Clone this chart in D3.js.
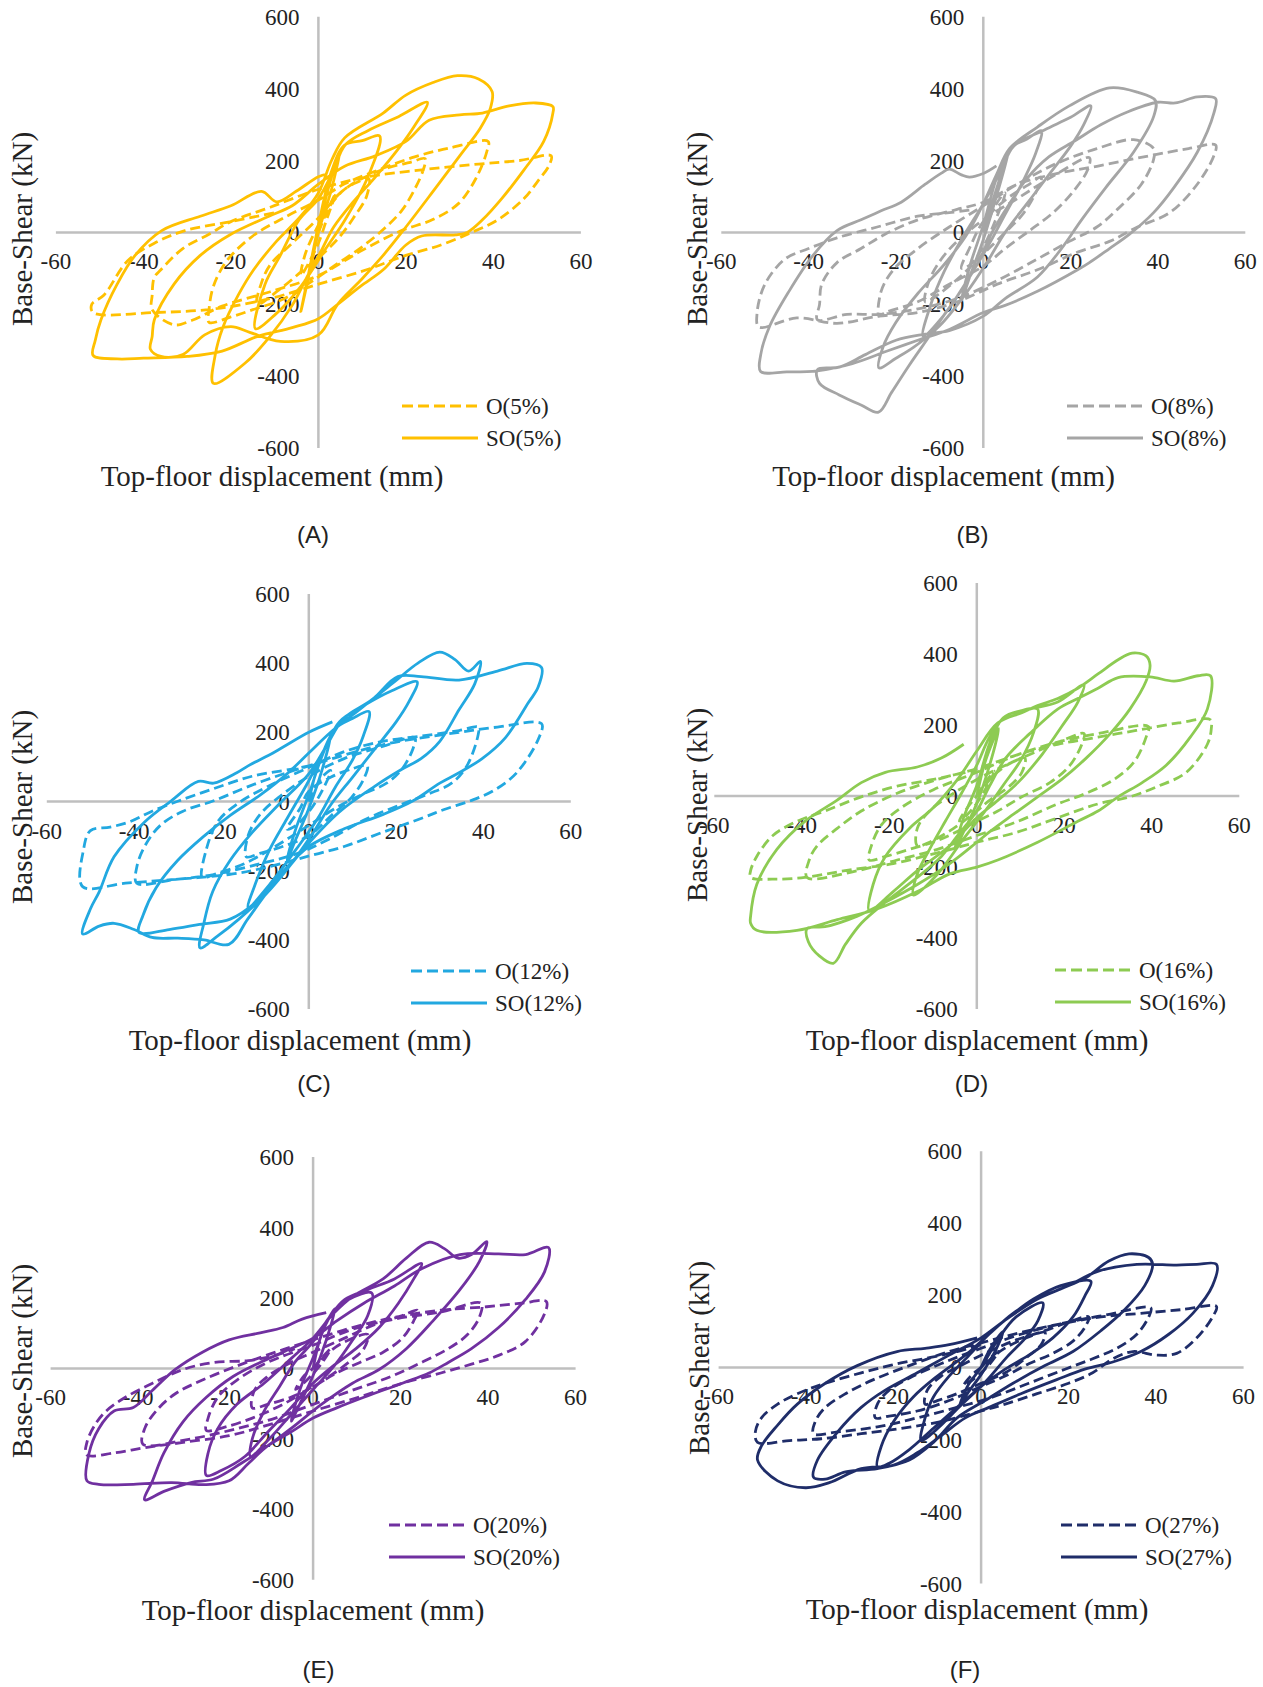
<!DOCTYPE html>
<html lang="en">
<head>
<meta charset="UTF-8">
<title>Base-shear vs top-floor displacement</title>
<style>
  body { margin: 0; background: #fff; }
  text { font-family: "Liberation Serif", "Times New Roman", serif; fill: #222; }
</style>
</head>
<body>
<svg width="1263" height="1687" id="svg"></svg>
<script src="https://d3js.org/d3.v7.min.js"></script>
<script>
const xTicks = [-60, -40, -20, 0, 20, 40, 60]
const yTicks = [600, 400, 200, 0, -200, -400, -600]

// each series: [displacement mm, base shear kN], traced cycle by cycle
const oA = [[0,0],[2,60],[4,110],[2,40],[0,-30],[-2,-80],[-4,-120],
  [-3,-60],[0,20],[3,80],[6,120],[9,140],[11.5,150],
  [11,100],[8,40],[5,-10],[1,-60],[-4,-110],[-9,-160],[-14,-200],
  [-13,-140],[-11,-90],[-6,-30],[0,40],[5,110],[10,150],[16,180],[21,195],[24.4,205],
  [24,175],[22,120],[19,60],[15,10],[10,-40],[4,-90],[-2,-140],[-8,-185],[-15,-215],[-20,-235],[-25,-250],
  [-25,-215],[-24,-150],[-21,-80],[-15,-10],[-8,40],[0,90],[6,135],[14,175],[22,210],[30,235],[38.8,253],
  [38.5,225],[36,150],[32,80],[26,35],[19,5],[10,-50],[0,-120],[-11,-165],[-22,-205],[-29,-245],[-33,-257],[-38,-215],
  [-38,-175],[-37.5,-125],[-36,-104],[-31,-45],[-25,-5],[-20,30],[-11,70],[0,120],[11,154],[23.6,174],[36.6,190],[46,200],[53.2,213],
  [52.8,188],[50,140],[47,94],[41,35],[35,0],[28,-35],[20,-64],[11,-104],[0,-144],[-11,-184],[-24,-213],[-37.5,-223],[-51.5,-223],
  [-51.8,-200],[-49,-174],[-43.6,-79],[-37.5,-30],[-30.5,5],[-20,30],[-10,55]]
const soA = [[0,0],[2,110],[5,230],[3,120],[0,0],[-2,-110],[-4,-220],
  [-2,-100],[0,20],[3,170],[6,243],[10,255],[14,268],
  [11.3,154],[6.1,35],[1.7,-45],[-4,-150],[-10,-230],[-14.4,-268],
  [-12.2,-144],[-8.7,-64],[-4.4,35],[0,94],[3.5,174],[6.1,243],[11.3,283],[18.3,322],[24.9,362],
  [21.8,293],[18.3,233],[13,154],[7.9,84],[3.5,15],[0.9,-45],[-2.6,-124],[-6,-203],[-11.3,-293],[-16.6,-362],[-24,-420],
  [-23.6,-342],[-21.8,-263],[-18.3,-174],[-14.8,-104],[-9.6,-25],[-4.4,40],[0,110],[3,200],[6,263],[14.8,332],[20,382],[26.2,417],[31.8,436],[36.6,427],[39.7,392],
  [39.3,345],[37,290],[32.3,213],[26.2,114],[20,15],[14.8,-64],[9.6,-134],[4.4,-200],[0,-285],[-8.7,-303],[-15.7,-278],[-20,-262],[-26,-285],[-31,-340],[-36,-345],[-38.4,-325],
  [-38,-290],[-37.5,-243],[-33,-144],[-27,-64],[-20,-5],[-11.3,45],[-6,74],[0,134],[6,184],[13,213],[20,253],[25.3,312],[32.3,327],[37.5,332],[43.6,352],[49.7,360],[53.6,350],
  [53.6,332],[51.5,253],[47,174],[41.9,94],[37.5,35],[34,0],[31.4,-7],[23.6,-10],[20,-35],[14.8,-104],[9.6,-150],[4.4,-200],[0,-240],[-6,-265],[-14,-290],[-22,-330],[-30,-345],[-40,-350],[-46,-352],[-51.5,-342],
  [-51,-300],[-49.7,-243],[-46,-144],[-41.9,-64],[-35.8,5],[-27,45],[-20,74],[-13,114],[-9.5,85],[-5,115],[0,155],[2,162]]

const oB = [[0,0],[3,80],[5,110],[3,40],[0,-40],[-3,-90],[-5,-100],
  [-3,-40],[0,30],[5,90],[10,130],[13.3,154],
  [12,110],[9,50],[5,0],[0,-60],[-5,-120],[-10,-170],[-13.3,-193],
  [-12.4,-134],[-9.6,-74],[-6,-25],[0,35],[7.8,94],[17,164],[24.3,208],
  [23.9,174],[20.6,114],[16,55],[10.6,5],[5,-45],[0,-94],[-7.8,-144],[-15,-193],[-22.5,-223],[-23.9,-233],
  [-23.4,-164],[-20.6,-104],[-15,-45],[-7.8,15],[0,74],[7.8,134],[17,193],[26,233],[34.4,258],[39,233],
  [39,203],[36.2,134],[30.7,64],[26,15],[19.7,-25],[12.4,-74],[3.2,-134],[-6,-184],[-15,-213],[-24,-228],[-31.2,-228],[-38,-243],
  [-37.5,-200],[-37,-144],[-33.5,-84],[-28,-45],[-22.5,-5],[-15,35],[-6,64],[0,84],[7.8,134],[17,164],[26,184],[38,213],[47,233],[53.2,243],
  [52.8,213],[49,134],[42.7,55],[35.3,15],[28.9,-25],[21.6,-55],[12.4,-104],[3.2,-144],[-6,-193],[-15,-223],[-24,-233],[-33.5,-253],[-42.7,-238],[-51.4,-263],
  [-51.8,-223],[-50,-144],[-45.4,-74],[-40,-45],[-33.5,-15],[-24.3,15],[-15,45],[-7.8,55],[-3,62]]
const soB = [[0,0],[3,120],[6,230],[3,100],[0,-20],[-3,-120],[-5,-190],
  [-3,-90],[0,20],[3,150],[6,233],[10,260],[13.3,283],
  [12,220],[9,140],[5,50],[1,-40],[-4,-140],[-9,-230],[-13.8,-288],
  [-12,-200],[-9,-110],[-5,-20],[0,80],[4,170],[7,240],[14,285],[20,320],[24.6,352],
  [23,300],[20,240],[15,160],[10,80],[5,0],[1,-80],[-4,-170],[-10,-260],[-16,-320],[-20,-350],[-23.9,-377],
  [-23,-320],[-20,-250],[-15,-170],[-9,-90],[-4,-10],[0,80],[3,160],[6,233],[12.4,293],[19.7,352],[28.9,402],[35.3,390],[39.4,367],
  [39,322],[34.4,223],[28,124],[22.5,35],[17.9,-45],[12.4,-124],[5,-184],[0,-233],[-7.8,-273],[-13.3,-283],[-20,-300],[-27,-340],[-33,-375],[-38,-382],
  [-37.5,-420],[-33,-452],[-28,-480],[-24,-500],[-21,-445],[-17,-370],[-13,-300],[-9,-230],[-5,-160],[-1,-80],[2,0],[6,80],[10,150],[15,210],[21,255],[27,300],[33,335],[39.9,362],[44,360],[49,377],[53.2,372],
  [52.8,332],[49,223],[43.6,124],[39,55],[33.5,-5],[28.9,-45],[24.3,-84],[21.6,-104],[12.4,-164],[5,-203],[0,-223],[-7.8,-270],[-15,-300],[-22,-330],[-30,-365],[-38,-385],[-45,-388],[-51,-387],
  [-51,-342],[-49,-263],[-44.5,-164],[-39,-64],[-33.5,5],[-28,35],[-23.4,60],[-18.8,84],[-13.3,134],[-9.6,165],[-7.8,176],[-5,160],[-3.2,154],[0,164],[3,185]]

const oC = [[0,0],[3,70],[5,90],[3,30],[0,-30],[-3,-70],[-5,-80],
  [-2,-20],[0,30],[5,70],[10,95],[13.4,103],
  [12.5,63],[9.8,12],[5.4,-38],[0,-99],[-6,-130],[-11.2,-150],[-14.3,-160],
  [-13.9,-99],[-11.2,-38],[-6.9,12],[0,73],[8.1,124],[16.9,159],[24.3,184],
  [23.9,154],[21.3,93],[17.8,53],[12.5,22],[6.3,-18],[0,-69],[-7.7,-130],[-14.8,-180],[-21.8,-211],[-24.4,-221],
  [-23.5,-140],[-20.9,-59],[-16.5,-8],[-9.5,43],[0,98],[8.1,144],[16.9,174],[25.7,189],[34.4,205],[38.8,215],
  [38.8,194],[36.2,103],[32.7,53],[27.4,22],[21.3,-8],[13.4,-49],[4.6,-109],[-2.5,-150],[-11.2,-180],[-21.8,-211],[-31,-226],[-39.4,-236],
  [-39.4,-190],[-37.6,-130],[-34,-69],[-28.8,-28],[-21.8,2],[-13.9,43],[-5.1,83],[0,103],[8.1,134],[16.9,164],[25.7,184],[34.4,200],[43.2,215],[53.3,225],
  [52.7,184],[47.6,83],[42.4,32],[37,2],[31,-23],[25.7,-49],[16.9,-89],[8.1,-130],[-0.7,-160],[-9.5,-190],[-18.3,-211],[-31.5,-226],[-42,-236],[-51.8,-246],
  [-51.6,-140],[-50,-84],[-45.5,-74],[-41.1,-59],[-35.9,-28],[-29.7,2],[-21.8,37],[-13,73],[-4.2,93],[0,103]]
const soC = [[0,0],[2,100],[5,190],[3,90],[0,-20],[-3,-110],[-5,-170],
  [-3,-80],[0,20],[3,130],[6,210],[10,240],[13.8,260],
  [12.5,190],[10,120],[6,40],[2,-50],[-3,-140],[-9,-240],[-13.9,-307],
  [-12,-230],[-9,-140],[-5,-50],[0,60],[4,160],[7,230],[13,280],[19,320],[24.8,346],
  [23,290],[20,230],[15,150],[10,70],[5,-10],[1,-90],[-4,-180],[-10,-270],[-16,-340],[-21,-390],[-24.9,-423],
  [-24,-350],[-22,-260],[-18,-170],[-13,-90],[-7,-10],[0,80],[4,160],[8,240],[14,290],[20,350],[25,400],[30,432],[33.5,410],[36.6,377],[39.3,405],
  [38,340],[34.4,265],[30,174],[25.7,124],[21.3,93],[15,43],[7,-30],[0,-120],[-6,-210],[-12,-290],[-18,-340],[-25,-355],[-32,-370],[-38.9,-378],
  [-38,-330],[-35,-250],[-30,-170],[-24,-100],[-18,-40],[-11,20],[-5,80],[0,140],[5,200],[10,250],[15,300],[20.4,361],[25.7,361],[34.4,351],[43.2,377],[50,399],[53.3,387],
  [52.5,330],[50.3,286],[45,184],[39.7,124],[34.4,83],[30,53],[23.9,2],[16.9,-38],[8.1,-79],[0,-130],[-5,-190],[-10,-270],[-14,-340],[-18.3,-413],[-24,-400],[-30,-395],[-35.9,-393],[-40,-370],[-44.6,-352],[-48,-360],[-51.8,-383],
  [-50,-310],[-48,-261],[-44.6,-160],[-37.6,-59],[-31.5,2],[-25.3,58],[-21.8,53],[-16.5,83],[-13.9,103],[-7.7,144],[0,200],[5.4,230]]

const oD = [[0,0],[2,40],[4,70],[2,20],[0,-20],[-2,-50],[-4,-70],
  [-2,-30],[0,0],[4,60],[8,95],[11,107],
  [10.3,67],[7.5,28],[2.9,-12],[0,-42],[-5.3,-91],[-10.8,-130],[-13.6,-140],
  [-13.6,-91],[-10.8,-42],[-5.3,8],[0,47],[6.6,87],[13.9,127],[19.4,156],[24.5,176],
  [24,146],[21.3,87],[16.7,38],[10.3,-2],[4.8,-42],[0,-71],[-8.1,-121],[-15.4,-150],[-20.9,-170],[-24.6,-180],
  [-24.1,-140],[-21.8,-81],[-17.2,-32],[-9.9,18],[0,67],[9.4,117],[18.5,152],[27.7,176],[39.2,196],
  [38.7,166],[36,97],[31.4,47],[25,8],[18.5,-22],[9.4,-71],[0,-111],[-9,-150],[-18.2,-180],[-27.3,-210],[-38.8,-229],
  [-38.3,-180],[-36.5,-140],[-31.9,-91],[-26.4,-42],[-18.2,8],[-9,47],[0,77],[9.4,117],[18.5,146],[27.7,166],[36.9,186],[46.1,206],[53.4,215],
  [53.6,190],[52.7,146],[47.9,67],[41.5,28],[35,-2],[27.7,-22],[18.5,-61],[9.4,-101],[0,-130],[-9,-160],[-19.1,-190],[-30.1,-210],[-39.3,-229],[-46.6,-234],[-51.7,-229],
  [-51.7,-210],[-50.3,-170],[-46.6,-111],[-41.1,-71],[-34.7,-42],[-26.4,-2],[-18.2,28],[-9.9,47],[-4.4,62],[0,72]]
const soD = [[0,0],[2,100],[5,190],[3,90],[0,-20],[-3,-100],[-5,-150],
  [-3,-60],[0,30],[3,150],[6,220],[10,240],[13.9,245],
  [13,180],[10,100],[6,30],[2,-40],[-3,-120],[-9,-220],[-14.5,-279],
  [-13.6,-219],[-10.8,-150],[-7.2,-71],[-3.5,8],[0,87],[2.9,166],[6.6,225],[12.1,245],[18.5,265],[24.5,314],
  [23.1,265],[19.4,196],[14.9,117],[9.4,38],[4.8,-12],[0,-61],[-6.2,-140],[-13.6,-210],[-19.1,-269],[-24.6,-323],
  [-23.7,-249],[-20.9,-170],[-15.4,-91],[-9.9,-32],[-4.4,47],[0,127],[4.8,206],[10.3,235],[13.9,255],[18.5,275],[23.1,304],[27.7,344],[32.3,384],[35.5,403],[38.7,395],[39.6,369],
  [38.7,324],[35,245],[30.5,176],[25,107],[19.4,47],[13.9,-2],[8.4,-51],[2.9,-101],[0,-130],[-6.2,-190],[-13.6,-249],[-20.9,-299],[-27.3,-338],[-34.7,-368],[-38.8,-373],
  [-38.5,-410],[-36,-450],[-32.8,-471],[-30,-417],[-26.4,-358],[-20.9,-299],[-13.6,-229],[-8.1,-170],[-4.4,-111],[0,-42],[2.9,28],[6.6,107],[12.1,176],[18.5,245],[23.1,275],[27.7,304],[32.3,334],[39.6,336],[45.1,324],[50.6,339],[53.4,339],
  [52.7,245],[48.8,166],[43.3,87],[37.8,38],[32.3,-2],[27.7,-42],[23.1,-71],[13.9,-130],[4.8,-180],[0,-200],[-6.2,-219],[-13.6,-269],[-22.8,-318],[-31.9,-348],[-41.1,-378],[-50.3,-378],[-51.7,-358],
  [-51.7,-338],[-50.3,-249],[-45.7,-150],[-39.3,-71],[-32,-12],[-26.4,38],[-20.9,67],[-13.6,82],[-8.1,107],[-3,146]]

const oE = [[0,0],[2,30],[4,55],[2,15],[0,-15],[-2,-40],[-4,-60],
  [-2,-20],[0,0],[4,50],[8,80],[12.5,96],
  [11.6,56],[8.1,17],[3.7,-23],[0,-52],[-5.1,-82],[-10.4,-102],[-13.9,-112],
  [-13.4,-62],[-10.4,-23],[-5.1,17],[0,46],[7.2,86],[14.2,125],[20.4,150],[23.9,165],
  [23,135],[20.4,86],[16,46],[10.7,17],[5.4,-13],[0,-52],[-6.9,-102],[-13.9,-141],[-20,-166],[-24.4,-176],
  [-24,-141],[-21.8,-82],[-17.4,-33],[-10.4,17],[0,66],[9,111],[18.6,140],[29.2,160],[38.4,185],
  [38,145],[35.3,96],[30.9,56],[24.8,17],[17.8,-23],[9,-62],[0,-102],[-8.6,-141],[-17.4,-171],[-27.9,-200],[-38.9,-215],
  [-38.5,-171],[-35.9,-121],[-31.5,-72],[-25.3,-33],[-17.4,7],[-8.6,46],[0,81],[9,116],[18.6,145],[29.2,165],[39.7,175],[47.6,185],[53.3,190],
  [52.9,155],[48.5,76],[42.4,37],[36.2,12],[29.2,-13],[20.4,-42],[11.6,-77],[0,-121],[-10.4,-161],[-19.2,-191],[-29.7,-210],[-38.5,-225],[-45.5,-240],[-51.8,-245],
  [-51.7,-210],[-49.9,-161],[-47.3,-121],[-42.9,-82],[-36.7,-42],[-29.7,-3],[-22.7,17],[-14.8,22],[-8.6,37],[-4.2,56]]
const soE = [[0,0],[2,100],[5,170],[3,80],[0,-20],[-3,-100],[-5,-150],
  [-3,-60],[0,30],[4,150],[8,195],[13.4,214],
  [12.5,150],[9,80],[5,10],[0,-60],[-5,-130],[-10,-200],[-14.3,-250],
  [-13.9,-200],[-11.2,-121],[-7.7,-52],[-4.2,17],[0,76],[3.7,145],[7.2,195],[12.5,224],[18.6,254],[24.8,298],
  [23,254],[19.5,185],[15.1,116],[9.8,56],[4.6,7],[0,-42],[-5.1,-112],[-10.4,-181],[-15.6,-250],[-20.9,-289],[-24.4,-304],
  [-24,-240],[-21.8,-171],[-17.4,-102],[-11.2,-42],[-5.1,27],[0,86],[4.6,155],[9,204],[16,254],[21.3,313],[26.5,358],[30,340],[33.1,313],[36.2,323],[39.7,360],
  [38,303],[33.6,224],[27.4,135],[21.3,56],[15.1,-3],[9,-42],[1.9,-102],[-5.1,-171],[-10.4,-220],[-16.5,-270],[-22.7,-314],[-27.9,-324],[-34.1,-349],[-38.5,-373],
  [-36.7,-319],[-34.1,-240],[-29.7,-151],[-24.4,-82],[-18.3,-23],[-12.1,17],[-6.9,46],[0,86],[5.4,135],[11.6,185],[18.6,234],[24.8,283],[33.6,323],[42.4,325],[48.6,323],[53.8,343],
  [52.9,274],[48.5,195],[42.4,116],[36.2,56],[30.9,17],[26.5,-13],[20.4,-42],[11.6,-82],[5.4,-112],[0,-141],[-5.1,-181],[-10.4,-220],[-14.8,-270],[-19.2,-319],[-25,-330],[-32.3,-324],[-41.1,-329],[-49,-329],[-51.7,-319],
  [-51.2,-240],[-49,-171],[-45.5,-121],[-41.1,-111],[-36.7,-62],[-31.5,-3],[-25.3,46],[-19.2,81],[-12.1,101],[-6.9,116],[-2.5,140],[3,158]]

const oF = [[0,0],[2,25],[4,45],[2,10],[0,-15],[-2,-35],[-4,-50],
  [-2,-20],[0,0],[5,50],[10,80],[14.6,97],
  [13.7,63],[10,24],[5.5,-15],[0,-44],[-5.5,-73],[-10,-92],[-12.8,-102],
  [-12.3,-63],[-9.1,-24],[-4.6,5],[0,34],[7.3,73],[14.6,102],[20,126],[24.6,140],
  [23.7,111],[21,73],[16.4,39],[10.9,10],[5.5,-24],[0,-53],[-7.3,-92],[-14.6,-121],[-21,-135],[-24.2,-140],
  [-23.7,-102],[-21,-63],[-15.5,-24],[-8.2,15],[0,53],[9.1,92],[18.2,121],[28.3,145],[38.8,165],
  [38.3,140],[35.6,92],[31,53],[25.5,24],[19.2,-5],[10.9,-44],[2.7,-82],[-5.5,-111],[-14.6,-140],[-23.7,-165],[-32.8,-179],[-38.3,-184],
  [-37.9,-150],[-35.6,-111],[-31,-73],[-24.6,-34],[-16.4,5],[-7.3,44],[0,68],[9.1,97],[18.2,121],[27.4,140],[36.5,150],[45.6,160],[53.8,169],
  [52.9,140],[49.3,82],[44.7,39],[40.1,34],[34.7,44],[30.1,24],[25.5,-15],[20,-44],[12.8,-73],[5.5,-102],[0,-121],[-9.1,-150],[-18.2,-169],[-27.4,-184],[-36.5,-198],[-43.8,-203],[-51.1,-208],
  [-51.6,-179],[-50.2,-140],[-46.5,-102],[-42,-73],[-35.6,-44],[-27.4,-15],[-19.2,10],[-10.9,29],[-5.5,44],[0,63]]
const soF = [[0,0],[2,50],[5,100],[3,40],[0,-20],[-3,-70],[-5,-110],
  [-3,-50],[0,0],[4,80],[8,140],[14.1,179],
  [13,130],[10,80],[6,30],[1,-40],[-5,-110],[-10,-170],[-13.7,-203],
  [-12.8,-140],[-10.9,-82],[-7.3,-24],[-2.7,34],[1.8,92],[6.4,140],[11.9,189],[18.2,227],[25.1,239],
  [23.7,198],[21,140],[16.4,82],[10.9,34],[5.5,-5],[0,-53],[-5.5,-111],[-10.9,-169],[-16.4,-228],[-21,-266],[-23.7,-276],
  [-22.8,-218],[-20,-150],[-15.5,-82],[-10,-24],[-3.6,34],[1.8,92],[7.3,150],[12.8,189],[18.2,218],[23.7,247],[29.2,295],[33.8,315],[38.3,305],[39.2,286],
  [37.4,227],[32.8,160],[27.4,102],[21,44],[14.6,5],[7.3,-44],[0.9,-92],[-5.5,-140],[-10.9,-208],[-16.4,-257],[-23.7,-281],[-31,-290],[-35.6,-310],[-38.3,-305],
  [-37.4,-257],[-32.8,-179],[-27.4,-111],[-21.9,-63],[-14.6,-15],[-7.3,34],[0,82],[5.5,131],[12.8,189],[20,227],[26.5,266],[35.6,286],[44.7,284],[49.3,286],[53.8,286],
  [52.9,227],[48.4,150],[42.9,92],[36.5,44],[30.1,15],[23.7,-5],[17.3,-34],[9.1,-73],[1.8,-111],[-3.6,-140],[-9.1,-189],[-14.6,-237],[-20,-271],[-27.4,-281],[-34.7,-320],[-40.1,-334],[-46.5,-315],[-51.1,-257],
  [-50.2,-218],[-46.5,-160],[-42,-102],[-35.6,-44],[-28.3,5],[-19.2,44],[-12.8,53],[-7.3,63],[-0.9,82]]

const panels = [
  {tag: "(A)", pct: "5%", color: "#FFC000", o: oA, so: soA, cx: 318.4, cy: 232.4, hx: 262.5, hy: 215.7, xt: [272, 475.5], yt: [21.5, 229], lab: [313, 535], leg: [402, 406]},
  {tag: "(B)", pct: "8%", color: "#A5A5A5", o: oB, so: soB, cx: 983.3, cy: 232.4, hx: 262, hy: 215.7, xt: [943.5, 475.5], yt: [697, 229], lab: [972.5, 535], leg: [1067, 406]},
  {tag: "(C)", pct: "12%", color: "#22A8E0", o: oC, so: soC, cx: 308.8, cy: 801.5, hx: 262, hy: 207.6, xt: [300, 1040], yt: [21.5, 807], lab: [314, 1084], leg: [411, 971]},
  {tag: "(D)", pct: "16%", color: "#8DCB52", o: oD, so: soD, cx: 976.8, cy: 796.1, hx: 262.5, hy: 213, xt: [977, 1040], yt: [697, 805], lab: [971.5, 1084], leg: [1055, 970]},
  {tag: "(E)", pct: "20%", color: "#7030A0", o: oE, so: soE, cx: 313.1, cy: 1368.4, hx: 262.5, hy: 211.4, xt: [313, 1610], yt: [21.5, 1361], lab: [318.4, 1670], leg: [389, 1525]},
  {tag: "(F)", pct: "27%", color: "#1F2D69", o: oF, so: soF, cx: 981.1, cy: 1367.4, hx: 262.5, hy: 216.2, xt: [977, 1609], yt: [699, 1358], lab: [965, 1670], leg: [1061, 1525]}
]

const svg = d3.select("svg#svg")
svg.append("rect").attr("width", 1263).attr("height", 1687).attr("fill", "#fff")

panels.forEach(p => {
  const x = d3.scaleLinear().domain([-60, 60]).range([p.cx - p.hx, p.cx + p.hx])
  const y = d3.scaleLinear().domain([-600, 600]).range([p.cy + p.hy, p.cy - p.hy])
  const g = svg.append("g")

  // axis lines cross at the origin, Excel style
  g.append("line").attr("x1", x(-60)).attr("x2", x(60)).attr("y1", y(0)).attr("y2", y(0))
    .attr("stroke", "#BFBFBF").attr("stroke-width", 2.5)
  g.append("line").attr("x1", x(0)).attr("x2", x(0)).attr("y1", y(600)).attr("y2", y(-600))
    .attr("stroke", "#BFBFBF").attr("stroke-width", 2.5)

  g.selectAll(".xt").data(xTicks).join("text")
    .attr("x", d => x(d)).attr("y", y(0) + 37)
    .attr("text-anchor", "middle").attr("font-size", 23).text(d => d)
  g.selectAll(".yt").data(yTicks).join("text")
    .attr("x", x(0) - 19).attr("y", d => y(d)).attr("dy", "0.35em")
    .attr("text-anchor", "end").attr("font-size", 23).text(d => d)

  const line = d3.line().x(d => x(d[0])).y(d => y(d[1])).curve(d3.curveCatmullRom.alpha(0.5))
  g.append("path").attr("d", line(p.o)).attr("fill", "none").attr("stroke", p.color)
    .attr("stroke-width", 2.8).attr("stroke-dasharray", "10,5")
  g.append("path").attr("d", line(p.so)).attr("fill", "none").attr("stroke", p.color)
    .attr("stroke-width", 2.8)

  g.append("text").attr("x", p.xt[0]).attr("y", p.xt[1]).attr("dy", "0.35em")
    .attr("text-anchor", "middle").attr("font-size", 29).text("Top-floor displacement (mm)")
  g.append("text").attr("transform", `translate(${p.yt[0]},${p.yt[1]}) rotate(-90)`).attr("dy", "0.35em")
    .attr("text-anchor", "middle").attr("font-size", 29).text("Base-Shear (kN)")
  g.append("text").attr("x", p.lab[0]).attr("y", p.lab[1]).attr("dy", "0.35em")
    .attr("text-anchor", "middle").attr("font-size", 24)
    .style("font-family", "'Liberation Sans', Arial, sans-serif").text(p.tag)

  // legend
  const rows = [["O(" + p.pct + ")", "11,5"], ["SO(" + p.pct + ")", null]]
  rows.forEach((r, i) => {
    const ly = p.leg[1] + i * 32
    g.append("line").attr("x1", p.leg[0]).attr("x2", p.leg[0] + 76).attr("y1", ly).attr("y2", ly)
      .attr("stroke", p.color).attr("stroke-width", 3.2).attr("stroke-dasharray", r[1])
    g.append("text").attr("x", p.leg[0] + 84).attr("y", ly).attr("dy", "0.35em")
      .attr("font-size", 23).text(r[0])
  })
})
</script>
</body>
</html>
